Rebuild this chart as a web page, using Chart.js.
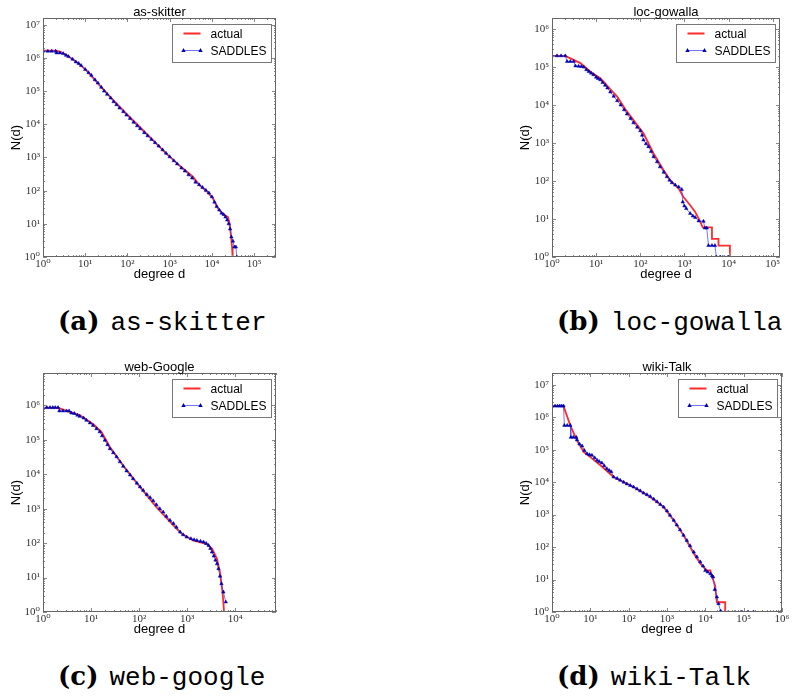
<!DOCTYPE html>
<html>
<head>
<meta charset="utf-8">
<script src="https://cdn.jsdelivr.net/npm/chart.js@4.4.1/dist/chart.umd.min.js"></script>
<style>
  body { margin: 0; background: #fff; width: 792px; height: 696px; overflow: hidden; position: relative; }
  .panel { position: absolute; }
  .caption { position: absolute; font-size: 26px; line-height: 26px; white-space: nowrap; color: #000; }
  .caption b { font-family: "DejaVu Serif", serif; font-weight: bold; }
  .caption span { font-family: "Liberation Mono", "DejaVu Sans Mono", monospace; margin-left: 11px; }
</style>
</head>
<body>
<canvas id="chartA" class="panel" width="286" height="285" style="left:0px;top:0px"></canvas>
<canvas id="chartB" class="panel" width="281" height="285" style="left:509px;top:0px"></canvas>
<canvas id="chartC" class="panel" width="286" height="285" style="left:0px;top:355px"></canvas>
<canvas id="chartD" class="panel" width="283" height="285" style="left:509px;top:355px"></canvas>

<div class="caption" style="left:58px;top:308px"><b>(a)</b><span>as-skitter</span></div>
<div class="caption" style="left:557px;top:308px"><b>(b)</b><span>loc-gowalla</span></div>
<div class="caption" style="left:58px;top:663px"><b>(c)</b><span>web-google</span></div>
<div class="caption" style="left:557px;top:663px"><b>(d)</b><span>wiki-Talk</span></div>

<script>
// degree d, N(d) pairs
const skitterActual = [[1,1.65e6],[2,1.65e6],[2.5,1.55e6],[3.6,1.23e6],[6.2,7.6e5],[10.6,4.3e5],[22,1.5e5],[46,5.4e4],[94,2.1e4],[195,8.4e3],[405,3.3e3],[835,1.3e3],[1700,580],[3600,260],[5100,146],[7400,98],[10700,58],[14000,29],[18000,20],[24000,16],[26500,10],[28000,5],[30000,2],[31000,1]];
const skitterSaddles = [[1,1.6e6],[1.3,1.6e6],[1.6,1.6e6],[2,1.6e6],[2.1,1.42e6],[2.5,1.42e6],[3,1.35e6],[3.5,1.2e6],[4,1.1e6],[5,9.2e5],[6,7.6e5],[7,6.8e5],[8,5.9e5],[10,4.5e5],[12,3.6e5],[14,3.0e5],[17,2.2e5],[20,1.75e5],[24,1.3e5],[28,1.0e5],[33,8.0e4],[40,6.2e4],[47,4.8e4],[55,3.9e4],[65,3.1e4],[80,2.4e4],[95,1.9e4],[115,1.5e4],[140,1.15e4],[170,9.0e3],[200,7.4e3],[250,5.6e3],[300,4.5e3],[370,3.5e3],[450,2.8e3],[550,2.2e3],[680,1.7e3],[820,1.35e3],[1000,1.05e3],[1250,800],[1500,640],[1900,480],[2300,390],[2800,300],[3400,240],[4100,180],[5000,150],[6000,125],[7200,102],[8500,85],[10000,65],[11500,45],[13000,33],[15000,26],[17000,21],[19000,19],[21000,16],[23000,13],[25000,10],[27000,7],[29000,4],[31500,3],[34000,2],[37000,2],[39000,1]];

const gowallaActual = [[1,1.97e5],[2,1.97e5],[4.4,1.27e5],[6.8,8.2e4],[8.7,6.6e4],[12.4,5.1e4],[16,3.7e4],[21,2.6e4],[30,1.66e4],[45,8.0e3],[70,4.0e3],[118,1.8e3],[200,530],[335,194],[475,105],[740,63],[950,38],[1350,23],[1750,15.4],[2300,8.4],[2450,7],[2600,6],[4200,6],[4200,3],[5900,3],[5900,2],[10700,2],[10700,1],[16000,1]];
const gowallaSaddles = [[1,1.97e5],[1.3,1.97e5],[1.6,1.97e5],[2,1.97e5],[2.2,1.4e5],[2.6,1.4e5],[3.1,1.4e5],[3.4,1.07e5],[4,1.05e5],[4.6,1.03e5],[5.2,1.0e5],[6,8.5e4],[6.8,7.6e4],[7.7,6.9e4],[8.7,6.3e4],[10,5.4e4],[11,5.0e4],[12.4,4.6e4],[14,3.9e4],[16,3.3e4],[18,2.8e4],[21,2.2e4],[25,1.7e4],[30,1.3e4],[36,1.0e4],[43,7.5e3],[50,5.8e3],[60,4.4e3],[70,3.4e3],[85,2.6e3],[100,2.1e3],[110,1.6e3],[118,1.2e3],[135,950],[153,800],[175,600],[200,435],[240,320],[280,236],[340,170],[400,130],[460,105],[520,90],[620,78],[740,70],[870,60],[915,28],[1000,22],[1100,18.8],[1350,14],[1550,12],[1750,11],[2100,8.9],[2700,8.7],[2900,5.8],[3200,5.8],[3500,2],[4200,2],[4900,2],[5300,1],[6500,1],[8000,1],[10000,1]];

const googleActual = [[1,8.6e5],[2.06,8.6e5],[3.07,6.9e5],[5.8,5.2e5],[11,2.9e5],[16.5,1.7e5],[24.7,6.2e4],[46.7,1.8e4],[104,4.3e3],[230,1.1e3],[520,330],[770,188],[1340,120],[2600,93],[3300,69],[4200,35],[4900,13],[5500,3.4],[5900,1]];
const googleSaddles = [[1,8.6e5],[1.2,8.6e5],[1.4,8.6e5],[1.6,8.6e5],[1.8,8.6e5],[2.06,8.6e5],[2.2,6.9e5],[2.6,6.9e5],[3.1,6.9e5],[3.5,6.9e5],[3.9,6.0e5],[4.5,5.8e5],[5.2,5.2e5],[5.8,4.8e5],[7,4.3e5],[8,3.7e5],[9.5,3.1e5],[11,2.6e5],[13,2.1e5],[15.2,1.7e5],[17,1.3e5],[19.4,9.7e4],[22,7.2e4],[24.7,5.5e4],[29,4.2e4],[34,3.2e4],[40,2.3e4],[46.7,1.7e4],[55,1.25e4],[65,9.5e3],[75,7.4e3],[90,5.5e3],[105,4.3e3],[122,3.4e3],[145,2.6e3],[170,2.1e3],[197,1.7e3],[230,1.3e3],[270,1.0e3],[318,800],[370,600],[440,460],[520,370],[600,290],[717,210],[830,175],[980,150],[1200,135],[1400,125],[1600,120],[1900,113],[2200,108],[2500,98],[2800,86],[3050,70],[3300,55],[3600,42],[3900,32],[4200,25],[4500,18],[4850,11],[5200,6.6],[5700,3.8],[6400,1.95]];

const talkActual = [[1,2.2e6],[2,2.2e6],[3,5.6e5],[4.5,1.9e5],[6.7,8.5e4],[10,5.9e4],[18.3,3.3e4],[40.5,1.44e4],[134,7.1e3],[366,3.5e3],[818,1.7e3],[1500,665],[2700,230],[5000,63],[7400,31],[11000,19],[13500,19],[15000,12],[18000,6.6],[20000,2],[33000,2],[33000,1]];
const talkSaddles = [[1,2.2e6],[1.2,2.2e6],[1.4,2.2e6],[1.6,2.2e6],[1.8,2.2e6],[2,2.2e6],[2.1,5.6e5],[2.5,5.6e5],[3,5.6e5],[3.1,2.4e5],[3.6,2.4e5],[4.3,2.4e5],[4.5,2.0e5],[5.2,1.5e5],[6.1,1.3e5],[7,9.5e4],[8.2,7.5e4],[9.5,7.0e4],[11,6.7e4],[13,5.6e4],[15,4.7e4],[17,4.3e4],[20,3.9e4],[23,3.2e4],[27,2.6e4],[31,2.3e4],[35,2.1e4],[40.5,1.44e4],[50,1.3e4],[60,1.15e4],[74,1.0e4],[90,8.8e3],[110,7.9e3],[134,7.1e3],[165,6.2e3],[200,5.4e3],[245,4.6e3],[300,4.1e3],[366,3.6e3],[450,3.0e3],[550,2.5e3],[670,2.05e3],[818,1.7e3],[1000,1.3e3],[1200,950],[1500,665],[1800,480],[2200,340],[2700,230],[3300,160],[4000,110],[5000,70],[6000,50],[7400,35],[8700,26],[10000,19],[11500,17],[13500,15],[15000,13],[16000,12],[17600,4.9],[20000,2.9],[22000,1.8],[25000,1.07],[40000,1],[60000,1],[90000,1],[130000,1],[180000,1]];

const seriesNames = ['actual', 'SADDLES'];
const superDigits = ['⁰','¹','²','³','⁴','⁵','⁶','⁷','⁸','⁹'];

const panels = [
  { id: 'chartA', title: 'as-skitter', actual: skitterActual, saddles: skitterSaddles, xMax: 3.3e5, yMax: 1.6e7 },
  { id: 'chartB', title: 'loc-gowalla', actual: gowallaActual, saddles: gowallaSaddles, xMax: 1.46e5, yMax: 1.95e6 },
  { id: 'chartC', title: 'web-Google', actual: googleActual, saddles: googleSaddles, xMax: 7.1e4, yMax: 8.7e6 },
  { id: 'chartD', title: 'wiki-Talk', actual: talkActual, saddles: talkSaddles, xMax: 1e6, yMax: 2.3e7 }
];

function powLabel(v) {
  const e = Math.round(Math.log10(v));
  return '10' + String(e).split('').map(c => superDigits[+c]).join('');
}

function decadeTicks(scale) {
  const ticks = [];
  for (let e = 0; Math.pow(10, e) <= scale.max * 1.0001; e++) ticks.push({ value: Math.pow(10, e) });
  scale.ticks = ticks;
}

function triangle(ctx, x, y, r) {
  ctx.beginPath();
  ctx.moveTo(x, y - r);
  ctx.lineTo(x + r * 0.9, y + r * 0.6);
  ctx.lineTo(x - r * 0.9, y + r * 0.6);
  ctx.closePath();
  ctx.fill();
}

// frame, inward ticks, title and legend box drawn like the matplotlib original
const decorPlugin = {
  id: 'decor',
  afterDraw(chart, args, opts) {
    const { ctx, chartArea: a } = chart;
    ctx.save();
    ctx.strokeStyle = '#888';
    ctx.lineWidth = 1;
    ['x', 'y'].forEach(key => {
      const scale = chart.scales[key];
      for (let e = 0; Math.pow(10, e) <= scale.max; e++) {
        for (let m = 1; m <= 9; m++) {
          const v = m * Math.pow(10, e);
          if (v > scale.max) break;
          const p = Math.round(scale.getPixelForValue(v)) + 0.5;
          const len = m === 1 ? 4 : 2;
          ctx.beginPath();
          if (key === 'x') {
            ctx.moveTo(p, a.bottom); ctx.lineTo(p, a.bottom - len);
            ctx.moveTo(p, a.top); ctx.lineTo(p, a.top + len);
          } else {
            ctx.moveTo(a.left, p); ctx.lineTo(a.left + len, p);
            ctx.moveTo(a.right, p); ctx.lineTo(a.right - len, p);
          }
          ctx.stroke();
        }
      }
    });
    ctx.strokeStyle = '#666';
    ctx.strokeRect(Math.round(a.left) + 0.5, Math.round(a.top) + 0.5, Math.round(a.width) - 1, Math.round(a.height) - 1);

    ctx.fillStyle = '#000';
    ctx.font = '13px "Liberation Sans", Arial, sans-serif';
    ctx.textAlign = 'center';
    ctx.textBaseline = 'alphabetic';
    ctx.fillText(opts.title, (a.left + a.right) / 2, a.top - 2);

    // legend
    const bw = 99, bh = 38;
    const bx = Math.round(a.right) - 5 - bw + 0.5, by = Math.round(a.top) + 6 + 0.5;
    ctx.fillStyle = '#fff';
    ctx.fillRect(bx, by, bw, bh);
    ctx.strokeStyle = '#777';
    ctx.strokeRect(bx, by, bw, bh);
    const ds = chart.data.datasets;
    ctx.lineWidth = 2;
    ctx.strokeStyle = ds[0].borderColor;
    ctx.beginPath(); ctx.moveTo(bx + 11, by + 9); ctx.lineTo(bx + 28, by + 9); ctx.stroke();
    ctx.lineWidth = 1;
    ctx.strokeStyle = ds[1].borderColor;
    ctx.beginPath(); ctx.moveTo(bx + 11, by + 26); ctx.lineTo(bx + 28, by + 26); ctx.stroke();
    ctx.fillStyle = ds[1].pointBackgroundColor;
    triangle(ctx, bx + 11, by + 26, 2.4);
    triangle(ctx, bx + 28, by + 26, 2.4);
    ctx.fillStyle = '#000';
    ctx.font = '12px "Liberation Sans", Arial, sans-serif';
    ctx.textAlign = 'left';
    ctx.fillText(ds[0].label, bx + 38, by + 13.5);
    ctx.fillText(ds[1].label, bx + 38, by + 30.5);
    ctx.restore();
  }
};

const tickFont = { family: '"Liberation Serif", "DejaVu Serif", serif', size: 11 };
const labelFont = { family: '"Liberation Sans", Arial, sans-serif', size: 13 };

panels.forEach(p => {
  new Chart(document.getElementById(p.id), {
    type: 'scatter',
    data: {
      datasets: [{
        label: seriesNames[0],
        data: p.actual.map(([d, n]) => ({ x: d, y: n })),
        showLine: true,
        borderColor: 'rgba(255,20,20,0.9)',
        borderWidth: 1.8,
        pointRadius: 0,
        tension: 0,
        order: 2
      }, {
        label: seriesNames[1],
        data: p.saddles.map(([d, n]) => ({ x: d, y: n })),
        showLine: true,
        borderColor: 'rgba(70,70,255,0.75)',
        borderWidth: 1,
        pointStyle: 'triangle',
        pointRadius: 2,
        pointBorderWidth: 0.5,
        pointBackgroundColor: '#0000b0',
        pointBorderColor: '#0000b0',
        tension: 0,
        order: 1
      }]
    },
    options: {
      responsive: false,
      animation: false,
      devicePixelRatio: 1,
      layout: { padding: { top: 18, right: 10, bottom: 2, left: 0 } },
      plugins: {
        legend: { display: false },
        tooltip: { enabled: false },
        decor: { title: p.title }
      },
      scales: {
        x: {
          type: 'logarithmic',
          min: 1,
          max: p.xMax,
          afterBuildTicks: decadeTicks,
          afterFit: s => { s.height = 26; },
          grid: { display: false, drawTicks: false },
          border: { display: false },
          ticks: { callback: v => powLabel(v), font: tickFont, color: '#333', padding: 1, autoSkip: false, maxRotation: 0 },
          title: { display: true, text: 'degree d', font: labelFont, color: '#000', padding: { top: 0, bottom: 1 } }
        },
        y: {
          type: 'logarithmic',
          min: 1,
          max: p.yMax,
          afterBuildTicks: decadeTicks,
          afterFit: s => { s.width = 43; },
          grid: { display: false, drawTicks: false },
          border: { display: false },
          ticks: { callback: v => powLabel(v), font: tickFont, color: '#333', padding: 3, autoSkip: false },
          title: { display: true, text: 'N(d)', font: labelFont, color: '#000', padding: { top: 9, bottom: 0 } }
        }
      }
    },
    plugins: [decorPlugin]
  });
});
</script>
</body>
</html>
